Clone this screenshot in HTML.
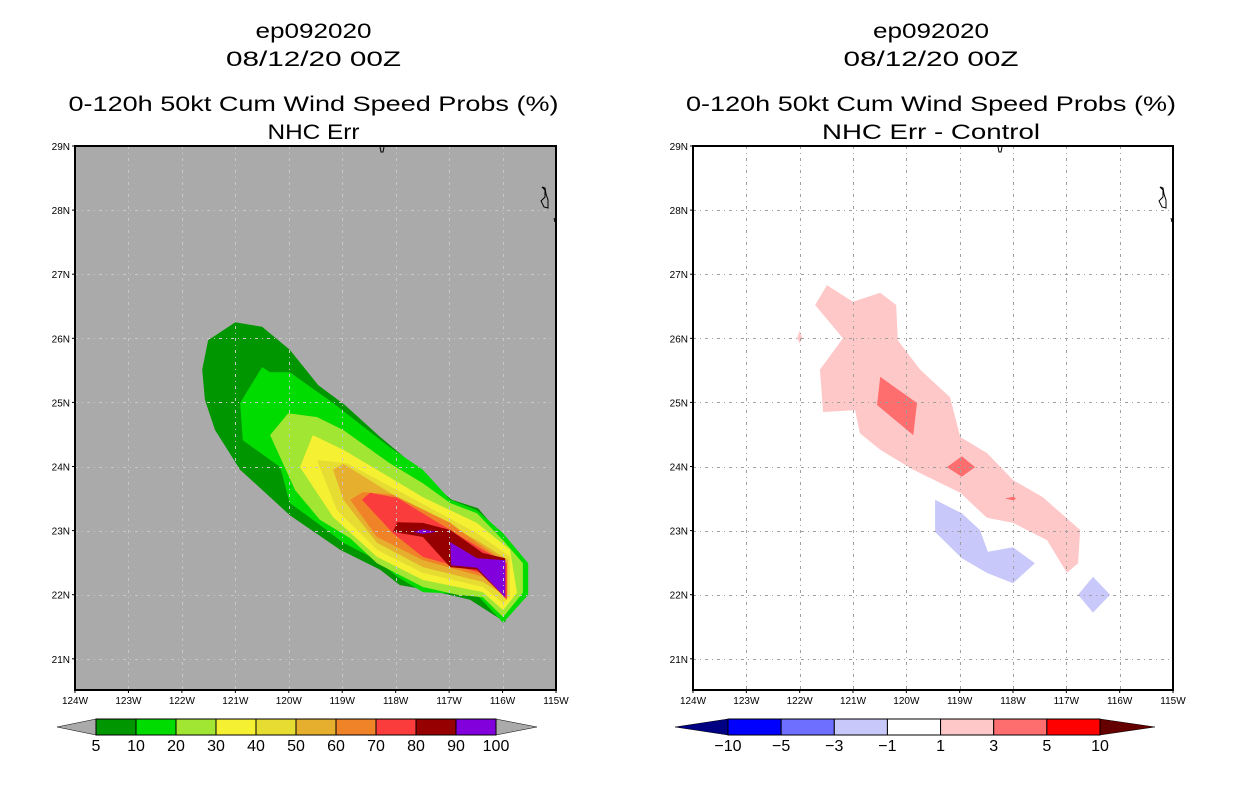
<!DOCTYPE html>
<html><head><meta charset="utf-8"><style>
html,body{margin:0;padding:0;background:#fff;}
svg{display:block;}
text{font-family:"Liberation Sans",sans-serif;fill:#000;}
</style></head><body>
<svg id="chart" width="1236" height="800" viewBox="0 0 1236 800" xmlns="http://www.w3.org/2000/svg">
</svg>
<script>
// ---- data ----
const lonTicks = [-124,-123,-122,-121,-120,-119,-118,-117,-116,-115];
const lonLabels = ["124W","123W","122W","121W","120W","119W","118W","117W","116W","115W"];
const latTicks = [29,28,27,26,25,24,23,22,21];
const latLabels = ["29N","28N","27N","26N","25N","24N","23N","22N","21N"];
const leftLevels = ["5","10","20","30","40","50","60","70","80","90","100"];
const leftColors = ["#009600","#00dc00","#a0e632","#f5f032","#e6dc32","#e6af2d","#f08228","#fa3c3c","#960000","#8200dc"];
const rightLevels = ["-10","-5","-3","-1","1","3","5","10"];
const rightColors = ["#0000ff","#6e6eff","#c8c8fa","#ffffff","#ffc8c8","#ff6e6e","#ff0000"];
const rightEnds = ["#000082","#640000"];

const L5 = [[-121.51,25.97],[-121.0,26.25],[-120.5,26.18],[-119.98,25.82],[-119.45,25.27],[-118.95,24.96],[-118.29,24.46],[-117.73,24.07],[-117.17,23.63],[-116.95,23.48],[-116.46,23.35],[-116.14,23.04],[-115.86,22.78],[-115.67,22.54],[-115.95,21.57],[-116.61,21.92],[-117.36,22.07],[-117.92,22.15],[-118.29,22.39],[-119.04,22.7],[-119.98,23.24],[-120.91,23.95],[-121.38,24.57],[-121.57,25.04],[-121.62,25.51]];
const L10 = [[-120.5,25.55],[-120.91,24.99],[-120.86,24.41],[-120.16,23.99],[-119.98,23.43],[-119.47,23.12],[-118.98,22.81],[-118.35,22.54],[-117.97,22.28],[-117.49,22.04],[-116.48,22.0],[-115.99,21.56],[-115.52,22.0],[-115.52,22.49],[-115.99,22.96],[-116.48,23.32],[-116.98,23.48],[-117.49,23.95],[-118.11,24.3],[-119.17,24.99],[-119.98,25.47],[-120.35,25.47]];
const L20 = [[-120.35,24.49],[-120.01,24.83],[-119.47,24.77],[-118.98,24.57],[-118.11,24.05],[-117.49,23.74],[-116.98,23.43],[-116.48,23.27],[-115.99,22.85],[-115.62,22.49],[-115.62,22.03],[-115.99,21.65],[-116.37,21.96],[-116.85,22.0],[-117.49,22.12],[-118.35,22.49],[-118.85,22.88],[-119.42,23.17],[-119.88,23.63]];
const L30 = [[-119.55,24.49],[-118.98,24.26],[-118.35,23.95],[-117.49,23.52],[-116.48,23.12],[-115.86,22.70],[-115.73,22.03],[-115.99,21.76],[-116.37,22.04],[-117.49,22.23],[-118.35,22.59],[-119.17,23.21],[-119.79,23.99]];
const L40 = [[-119.47,24.1],[-118.91,24.05],[-117.97,23.63],[-116.48,22.96],[-115.86,22.59],[-115.86,21.96],[-115.99,21.87],[-116.37,22.12],[-117.49,22.34],[-118.35,22.7],[-119.1,23.32]];
const L50 = [[-119.17,23.95],[-118.98,24.04],[-117.97,23.52],[-116.48,22.85],[-115.9,22.54],[-115.9,21.96],[-116.37,22.2],[-117.49,22.43],[-118.35,22.81],[-118.98,23.48]];
const L60 = [[-118.85,23.48],[-118.61,23.6],[-118.05,23.56],[-116.98,23.12],[-116.48,22.81],[-115.92,22.49],[-115.92,21.96],[-116.37,22.28],[-117.49,22.54],[-118.35,22.9]];
const L70 = [[-118.63,23.48],[-118.48,23.59],[-117.97,23.51],[-116.98,23.01],[-116.37,22.7],[-115.92,22.49],[-115.92,21.92],[-116.42,22.34],[-117.49,22.59],[-118.05,22.96]];
const L80 = [[-117.97,23.13],[-117.49,23.12],[-116.98,23.01],[-116.37,22.65],[-115.95,22.57],[-115.95,21.96],[-116.48,22.39],[-116.98,22.43],[-117.49,22.9],[-118.05,22.98]];
const L90a = [[-116.98,22.82],[-116.48,22.57],[-115.95,22.54],[-115.95,21.96],[-116.48,22.42],[-116.96,22.46]];
const L90b = [[-117.67,22.98],[-117.49,23.02],[-117.23,22.98],[-117.49,22.95]];

const P1 = [[-121.49,26.83],[-121.0,26.57],[-120.49,26.71],[-120.19,26.52],[-120.16,25.97],[-119.74,25.51],[-119.18,25.08],[-118.99,24.46],[-118.49,24.21],[-118.0,23.79],[-117.44,23.52],[-116.74,23.01],[-116.78,22.49],[-116.99,22.34],[-117.36,22.85],[-118.0,23.12],[-118.49,23.2],[-118.99,23.59],[-119.87,23.95],[-120.49,24.26],[-120.87,24.52],[-120.96,24.88],[-121.56,24.85],[-121.62,25.51],[-121.19,26.0],[-121.71,26.52]];
const P1s = [[-122.0,26.12],[-121.95,26.0],[-122.0,25.92],[-122.05,26.0]];
const P3a = [[-120.49,25.40],[-119.8,24.99],[-119.87,24.49],[-120.55,24.96]];
const P3b = [[-119.24,23.99],[-118.96,24.16],[-118.71,23.99],[-118.96,23.84]];
const P3c = [[-118.15,23.5],[-117.98,23.53],[-117.95,23.5],[-117.98,23.47]];
const N1a = [[-119.46,23.48],[-118.96,23.27],[-118.62,23.01],[-118.47,22.67],[-118.0,22.74],[-117.59,22.49],[-118.0,22.18],[-118.49,22.34],[-118.96,22.57],[-119.46,22.98]];
const N1b = [[-116.78,22.0],[-116.5,22.28],[-116.18,22.0],[-116.5,21.72]];

// ---- layout & axes ----
const svg = document.getElementById('chart');
const NS = 'http://www.w3.org/2000/svg';
const panels = [{x0:75,x1:556,name:'left'},{x0:693,x1:1173,name:'right'}];
const Y0 = 146, Y1 = 690;
function xScale(p, lon){ return p.x0 + (lon + 124) / 9 * (p.x1 - p.x0); }
function yScale(lat){ return Y0 + (29 - lat) * 64.1; }
function mk(tag, attrs, parent){ const e = document.createElementNS(NS, tag); for (const k in attrs) e.setAttribute(k, attrs[k]); (parent||svg).appendChild(e); return e; }
function poly(p, pts, fill, parent){ return mk('polygon', {points: pts.map(d => xScale(p,d[0]).toFixed(1)+','+yScale(d[1]).toFixed(1)).join(' '), fill: fill}, parent); }
function txt(x, y, s, size, anchor, parent, len){ const t = mk('text', {x:x, y:y, 'font-size':size, 'text-anchor':anchor||'middle'}, parent); if (len){ t.setAttribute('textLength', len); t.setAttribute('lengthAdjust','spacingAndGlyphs'); } t.textContent = s; return t; }

const titles = [["ep092020","08/12/20 00Z","0-120h 50kt Cum Wind Speed Probs (%)","NHC Err"],["ep092020","08/12/20 00Z","0-120h 50kt Cum Wind Speed Probs (%)","NHC Err - Control"]];
const titleLens = [[116,175,490,92],[116,175,490,218]];

panels.forEach((p, pi) => {
  const g = mk('g', {});
  
  
  const cx = (p.x0 + p.x1) / 2 - 2;
  const tg = mk('g', {}, g);
  
  
  const ty = [38, 66, 111, 139];
  titles[pi].forEach((s, i) => txt(cx, ty[i], s, 21, 'middle', tg, titleLens[pi][i]));
  const bg = mk('rect', {x:p.x0, y:Y0, width:p.x1-p.x0, height:Y1-Y0, fill: pi===0 ? '#aaaaaa' : '#ffffff'}, g);
  
  
  const cg = mk('g', {}, g);
  
  
  if (pi === 0) {
    const layers = [L5,L10,L20,L30,L40,L50,L60,L70,L80,L90a];
    layers.forEach((pts, i) => {
      const e = poly(p, pts, leftColors[i], cg);
      
      
    });
    const e2 = poly(p, L90b, leftColors[9], cg);
    
    
  } else {
    [[P1,4],[P1s,4],[P3a,5],[P3b,5],[P3c,5],[N1a,2],[N1b,2]].forEach((d, i) => {
      const e = poly(p, d[0], rightColors[d[1]], cg);
      
      
    });
  }
  const gg = mk('g', {stroke: pi===0 ? '#c8c8c8' : '#a0a0a0', 'stroke-width':1, 'stroke-dasharray':'3,4,1,4', fill:'none'}, g);
  
  
  lonTicks.slice(1, -1).forEach(l => { const x = Math.round(xScale(p,l))+0.5; mk('line', {x1:x, x2:x, y1:Y0, y2:Y1}, gg); });
  latTicks.slice(1).forEach(l => { const y = Math.round(yScale(l))+0.5; mk('line', {x1:p.x0, x2:p.x1, y1:y, y2:y}, gg); });
  const coast = mk('path', {d: `M${p.x0+305},147 l1,5 l2,0 l1,-5 M${p.x0+467},187 l3,3 l0,7 l-4,4 l3,6 l4,1 l0,-8 l-2,-6 l-1,-6 z M${p.x1-2},218 l1,4`, stroke:'#000', 'stroke-width':1, fill:'none'}, g);
  
  
  const fr = mk('rect', {x:p.x0, y:Y0, width:p.x1-p.x0, height:Y1-Y0, fill:'none', stroke:'#000', 'stroke-width':2}, g);
  
  
  const ya = mk('g', {}, g);
  
  
  latTicks.forEach((l, i) => {
    const y = yScale(l);
    mk('line', {x1:p.x0-3, x2:p.x0, y1:y, y2:y, stroke:'#000'}, ya);
    txt(p.x0-5, y+4, latLabels[i], 10, 'end', ya);
  });
  const xa = mk('g', {}, g);
  
  
  lonTicks.forEach((l, i) => {
    const x = xScale(p, l);
    mk('line', {x1:x, x2:x, y1:Y1, y2:Y1+3, stroke:'#000'}, xa);
    txt(x, Y1+14, lonLabels[i], 10, 'middle', xa);
  });
});

function colorbar(name, x0, x1, tip0, tip1, colors, labels, endColors){
  const g = mk('g', {});
  
  
  const y0 = 719, y1 = 735, ym = 727;
  mk('polygon', {points:`${tip0},${ym} ${x0},${y0} ${x0},${y1}`, fill:endColors[0], stroke:'#000', 'stroke-width':0.5}, g);
  mk('polygon', {points:`${tip1},${ym} ${x1},${y0} ${x1},${y1}`, fill:endColors[1], stroke:'#000', 'stroke-width':0.5}, g);
  const w = (x1 - x0) / colors.length;
  colors.forEach((c, i) => {
    const r = mk('rect', {x:x0+i*w, y:y0, width:w, height:y1-y0, fill:c, stroke:'#000', 'stroke-width':1}, g);
    
    
  });
  labels.forEach((s, i) => {
    txt(x0+i*w, 751, s.replace('-', '\u2212'), 16, 'middle', g);
  });
}
colorbar('left-colorbar', 96, 496, 57, 537, leftColors, leftLevels, ['#aaaaaa','#aaaaaa']);
colorbar('right-colorbar', 728, 1100, 675, 1155, rightColors, rightLevels, rightEnds);
</script>
</body></html>
